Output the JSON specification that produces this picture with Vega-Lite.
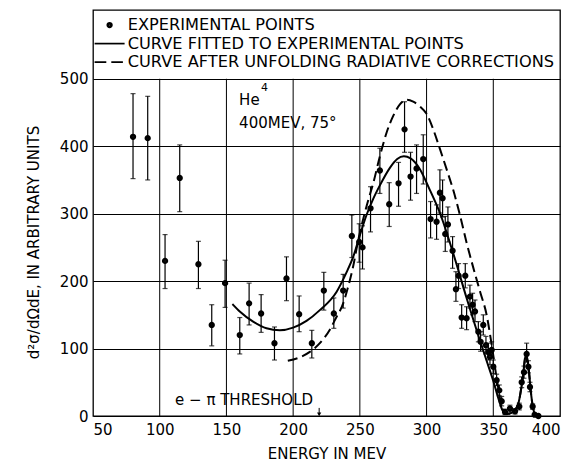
{
  "$schema": "https://vega.github.io/schema/vega-lite/v6.json",
  "width": 467,
  "height": 406,
  "autosize": {"type": "none"},
  "padding": {"left": 93, "top": 10, "right": 22, "bottom": 48},
  "background": "white",
  "config": {
    "view": {"stroke": "black", "strokeWidth": 1.3},
    "font": "DejaVu Sans",
    "axis": {"labelFont": "DejaVu Sans", "titleFont": "DejaVu Sans", "labelColor": "black", "titleColor": "black", "titleFontWeight": "normal", "labelFontSize": 15, "titleFontSize": 15, "ticks": false, "domain": false}
  },
  "datasets": {
    "grid": [{"E": 100}, {"E": 150}, {"E": 200}, {"E": 250}, {"E": 300}, {"E": 350}],
    "pts": [
      {"E": 80, "v": 414, "lo": 352, "hi": 478},
      {"E": 91, "v": 412, "lo": 350, "hi": 474},
      {"E": 104, "v": 230, "lo": 189, "hi": 269},
      {"E": 115, "v": 353, "lo": 303, "hi": 402},
      {"E": 129, "v": 225, "lo": 189, "hi": 259},
      {"E": 139, "v": 135, "lo": 104, "hi": 165},
      {"E": 149, "v": 197, "lo": 161, "hi": 231},
      {"E": 160, "v": 120, "lo": 92, "hi": 146},
      {"E": 167, "v": 167, "lo": 135, "hi": 197},
      {"E": 176, "v": 152, "lo": 124, "hi": 180},
      {"E": 186, "v": 108, "lo": 83, "hi": 132},
      {"E": 195, "v": 204, "lo": 171, "hi": 236},
      {"E": 204.5, "v": 151, "lo": 125, "hi": 178},
      {"E": 214, "v": 108, "lo": 86, "hi": 127},
      {"E": 223, "v": 186, "lo": 157, "hi": 213},
      {"E": 230.5, "v": 152, "lo": 130, "hi": 175},
      {"E": 237.5, "v": 186, "lo": 160, "hi": 210},
      {"E": 244, "v": 267, "lo": 235, "hi": 298},
      {"E": 249.5, "v": 258, "lo": 228, "hi": 285},
      {"E": 252, "v": 250, "lo": 218, "hi": 282},
      {"E": 258, "v": 308, "lo": 273, "hi": 340},
      {"E": 265, "v": 364, "lo": 330, "hi": 397},
      {"E": 272, "v": 314, "lo": 281, "hi": 346},
      {"E": 279, "v": 345, "lo": 311, "hi": 376},
      {"E": 283.5, "v": 425, "lo": 391, "hi": 466},
      {"E": 288, "v": 355, "lo": 320, "hi": 391},
      {"E": 292.5, "v": 367, "lo": 330, "hi": 402},
      {"E": 297.5, "v": 381, "lo": 344, "hi": 417},
      {"E": 303, "v": 292, "lo": 264, "hi": 318},
      {"E": 307.5, "v": 288, "lo": 262, "hi": 313},
      {"E": 310, "v": 331, "lo": 301, "hi": 365},
      {"E": 312, "v": 323, "lo": 295, "hi": 350},
      {"E": 314, "v": 270, "lo": 244, "hi": 296},
      {"E": 316, "v": 284, "lo": 258, "hi": 310},
      {"E": 319.5, "v": 245, "lo": 219, "hi": 266},
      {"E": 322, "v": 188, "lo": 170, "hi": 214},
      {"E": 324, "v": 208, "lo": 189, "hi": 226},
      {"E": 326.3, "v": 146, "lo": 130, "hi": 165},
      {"E": 329, "v": 208, "lo": 190, "hi": 226},
      {"E": 330, "v": 145, "lo": 128, "hi": 162},
      {"E": 332.5, "v": 177, "lo": 160, "hi": 194},
      {"E": 334.5, "v": 165, "lo": 150, "hi": 182},
      {"E": 336.3, "v": 155, "lo": 140, "hi": 172},
      {"E": 338.8, "v": 125, "lo": 110, "hi": 140},
      {"E": 340.5, "v": 110, "lo": 96, "hi": 125},
      {"E": 342.5, "v": 135, "lo": 120, "hi": 150},
      {"E": 344.5, "v": 105, "lo": 92, "hi": 118},
      {"E": 346.3, "v": 95, "lo": 83, "hi": 108},
      {"E": 347.5, "v": 88, "lo": 76, "hi": 100},
      {"E": 348.8, "v": 98, "lo": 86, "hi": 110},
      {"E": 350, "v": 73, "lo": 63, "hi": 83},
      {"E": 352.5, "v": 53, "lo": 45, "hi": 62},
      {"E": 354.5, "v": 38, "lo": 30, "hi": 46},
      {"E": 356.3, "v": 22, "lo": 15, "hi": 29},
      {"E": 358.8, "v": 6, "lo": 2, "hi": 10},
      {"E": 362.5, "v": 11, "lo": 6, "hi": 16},
      {"E": 366.3, "v": 7, "lo": 3, "hi": 11},
      {"E": 369.5, "v": 14, "lo": 9, "hi": 19},
      {"E": 371.3, "v": 50, "lo": 42, "hi": 58},
      {"E": 373, "v": 65, "lo": 56, "hi": 74},
      {"E": 375, "v": 92, "lo": 80, "hi": 108},
      {"E": 376.3, "v": 73, "lo": 64, "hi": 82},
      {"E": 377.5, "v": 43, "lo": 36, "hi": 50},
      {"E": 379.5, "v": 14, "lo": 10, "hi": 18},
      {"E": 381, "v": 2, "lo": 0, "hi": 4},
      {"E": 383.8, "v": 0, "lo": 0, "hi": 2}
    ],
    "fit": [
      {"E": 154.5, "v": 166}, {"E": 160, "v": 155}, {"E": 170, "v": 140}, {"E": 180, "v": 130},
      {"E": 190, "v": 127}, {"E": 200, "v": 131}, {"E": 210, "v": 141}, {"E": 220, "v": 157},
      {"E": 232.5, "v": 184}, {"E": 240, "v": 213}, {"E": 245, "v": 236}, {"E": 250, "v": 268},
      {"E": 255, "v": 298}, {"E": 260, "v": 322}, {"E": 265, "v": 342}, {"E": 272.5, "v": 368},
      {"E": 278, "v": 381}, {"E": 283, "v": 385}, {"E": 288, "v": 382}, {"E": 295, "v": 366},
      {"E": 302.5, "v": 335}, {"E": 310, "v": 301}, {"E": 320, "v": 241}, {"E": 330, "v": 175},
      {"E": 340, "v": 112}, {"E": 345, "v": 82}, {"E": 350, "v": 52}, {"E": 354, "v": 25},
      {"E": 357, "v": 8}, {"E": 360, "v": 3}, {"E": 363, "v": 4}, {"E": 366, "v": 8},
      {"E": 369, "v": 20}, {"E": 372, "v": 55}, {"E": 374.5, "v": 92}, {"E": 376.5, "v": 70},
      {"E": 378.5, "v": 30}, {"E": 380, "v": 10}, {"E": 381.5, "v": 1}
    ],
    "unfold": [
      {"E": 196, "v": 82}, {"E": 205, "v": 87}, {"E": 212.5, "v": 95}, {"E": 220, "v": 108},
      {"E": 227.5, "v": 128}, {"E": 232, "v": 145}, {"E": 237.5, "v": 167}, {"E": 241, "v": 190},
      {"E": 245, "v": 222}, {"E": 248.5, "v": 258}, {"E": 252, "v": 288}, {"E": 256, "v": 318},
      {"E": 260, "v": 345}, {"E": 265, "v": 385}, {"E": 270, "v": 420}, {"E": 275, "v": 445},
      {"E": 280, "v": 462}, {"E": 285, "v": 469}, {"E": 290, "v": 466}, {"E": 295, "v": 459},
      {"E": 300, "v": 448}, {"E": 305, "v": 425}, {"E": 310, "v": 396}, {"E": 315, "v": 366},
      {"E": 320, "v": 335}, {"E": 325, "v": 298}, {"E": 330, "v": 257}, {"E": 335, "v": 220},
      {"E": 340, "v": 185}, {"E": 345, "v": 150}, {"E": 349, "v": 103}, {"E": 353, "v": 50},
      {"E": 357, "v": 10}, {"E": 360, "v": 3}, {"E": 363, "v": 4}, {"E": 366, "v": 8},
      {"E": 369, "v": 20}, {"E": 372, "v": 55}, {"E": 374.5, "v": 92}, {"E": 376.5, "v": 70},
      {"E": 378.5, "v": 30}, {"E": 380, "v": 10}, {"E": 381.5, "v": 1}
    ],
    "notes": [
      {"E": 159.5, "v": 469, "label": "He"},
      {"E": 159.5, "v": 435, "label": "400MEV, 75°"}
    ],
    "sup": [{"E": 176, "v": 487, "label": "4"}],
    "thr": [{"E": 111.5, "v": 24, "label": "e − π THRESHOLD"}],
    "arrow": [{"E": 219.5, "top": 12, "tip": 2.5}]
  },
  "layer": [
    {
      "data": {"name": "grid"},
      "mark": {"type": "rule", "color": "black", "strokeWidth": 1},
      "encoding": {
        "x": {"field": "E", "type": "quantitative", "scale": {"domain": [50, 400], "nice": false, "zero": false},
              "axis": {"values": [50, 100, 150, 200, 250, 300, 350, 400], "grid": false, "labelPadding": 6, "title": "ENERGY IN MEV", "titlePadding": 9}},
        "y": {"datum": 0, "type": "quantitative", "scale": {"domain": [0, 602], "nice": false, "zero": true},
              "axis": {"values": [0, 100, 200, 300, 400, 500], "grid": true, "gridColor": "black", "gridOpacity": 1, "gridWidth": 1, "labelPadding": 5, "title": "d²σ/dΩdE, IN ARBITRARY UNITS", "titlePadding": 18, "titleY": 232}},
        "y2": {"datum": 500}
      }
    },
    {
      "data": {"name": "pts"},
      "mark": {"type": "rule", "color": "black", "strokeWidth": 1.2},
      "encoding": {
        "x": {"field": "E", "type": "quantitative"},
        "y": {"field": "lo", "type": "quantitative"},
        "y2": {"field": "hi"}
      }
    },
    {
      "data": {"name": "pts"},
      "mark": {"type": "tick", "orient": "horizontal", "color": "black", "size": 5, "thickness": 1.2},
      "encoding": {
        "x": {"field": "E", "type": "quantitative"},
        "y": {"field": "lo", "type": "quantitative"}
      }
    },
    {
      "data": {"name": "pts"},
      "mark": {"type": "tick", "orient": "horizontal", "color": "black", "size": 5, "thickness": 1.2},
      "encoding": {
        "x": {"field": "E", "type": "quantitative"},
        "y": {"field": "hi", "type": "quantitative"}
      }
    },
    {
      "data": {"name": "fit"},
      "mark": {"type": "line", "color": "black", "strokeWidth": 2, "interpolate": "monotone"},
      "encoding": {
        "x": {"field": "E", "type": "quantitative"},
        "y": {"field": "v", "type": "quantitative"}
      }
    },
    {
      "data": {"name": "unfold"},
      "mark": {"type": "line", "color": "black", "strokeWidth": 2, "strokeDash": [10, 5], "interpolate": "monotone"},
      "encoding": {
        "x": {"field": "E", "type": "quantitative"},
        "y": {"field": "v", "type": "quantitative"}
      }
    },
    {
      "data": {"name": "pts"},
      "mark": {"type": "point", "filled": false, "color": "black", "strokeWidth": 1.7, "size": 100, "opacity": 1},
      "encoding": {
        "x": {"field": "E", "type": "quantitative"},
        "y": {"field": "v", "type": "quantitative"},
        "shape": {
          "datum": "EXPERIMENTAL POINTS",
          "scale": {
            "domain": ["EXPERIMENTAL POINTS", "CURVE FITTED TO EXPERIMENTAL POINTS", "CURVE AFTER UNFOLDING RADIATIVE CORRECTIONS"],
            "range": ["M-0.1,0A0.1,0.1 0 1,1 0.1,0A0.1,0.1 0 1,1 -0.1,0M-0.28,0A0.28,0.28 0 1,1 0.28,0A0.28,0.28 0 1,1 -0.28,0M-0.46,0A0.46,0.46 0 1,1 0.46,0A0.46,0.46 0 1,1 -0.46,0", "M-3,0L3,0", "M-3,0L-0.66,0M0.34,0L2.66,0"]
          },
          "legend": {
            "title": null, "orient": "none", "legendX": 2, "legendY": 7, "padding": 0,
            "symbolSize": 100, "symbolStrokeColor": "black", "symbolStrokeWidth": 1.7, "symbolOpacity": 1, "symbolOffset": 6.5,
            "labelFont": "DejaVu Sans", "labelFontSize": 16.2, "labelColor": "black", "labelLimit": 0, "labelOffset": 10, "rowPadding": 1.5
          }
        }
      }
    },
    {
      "data": {"name": "notes"},
      "mark": {"type": "text", "align": "left", "baseline": "middle", "fontSize": 15, "color": "black", "font": "DejaVu Sans"},
      "encoding": {
        "x": {"field": "E", "type": "quantitative"},
        "y": {"field": "v", "type": "quantitative"},
        "text": {"field": "label"}
      }
    },
    {
      "data": {"name": "sup"},
      "mark": {"type": "text", "align": "left", "baseline": "middle", "fontSize": 11, "color": "black", "font": "DejaVu Sans"},
      "encoding": {
        "x": {"field": "E", "type": "quantitative"},
        "y": {"field": "v", "type": "quantitative"},
        "text": {"field": "label"}
      }
    },
    {
      "data": {"name": "thr"},
      "mark": {"type": "text", "align": "left", "baseline": "middle", "fontSize": 15, "color": "black", "font": "DejaVu Sans"},
      "encoding": {
        "x": {"field": "E", "type": "quantitative"},
        "y": {"field": "v", "type": "quantitative"},
        "text": {"field": "label"}
      }
    },
    {
      "data": {"name": "arrow"},
      "mark": {"type": "rule", "color": "black", "strokeWidth": 1},
      "encoding": {
        "x": {"field": "E", "type": "quantitative"},
        "y": {"field": "top", "type": "quantitative"},
        "y2": {"field": "tip"}
      }
    },
    {
      "data": {"name": "arrow"},
      "mark": {"type": "point", "shape": "triangle-down", "filled": true, "color": "black", "size": 18, "opacity": 1},
      "encoding": {
        "x": {"field": "E", "type": "quantitative"},
        "y": {"field": "tip", "type": "quantitative"}
      }
    }
  ]
}
